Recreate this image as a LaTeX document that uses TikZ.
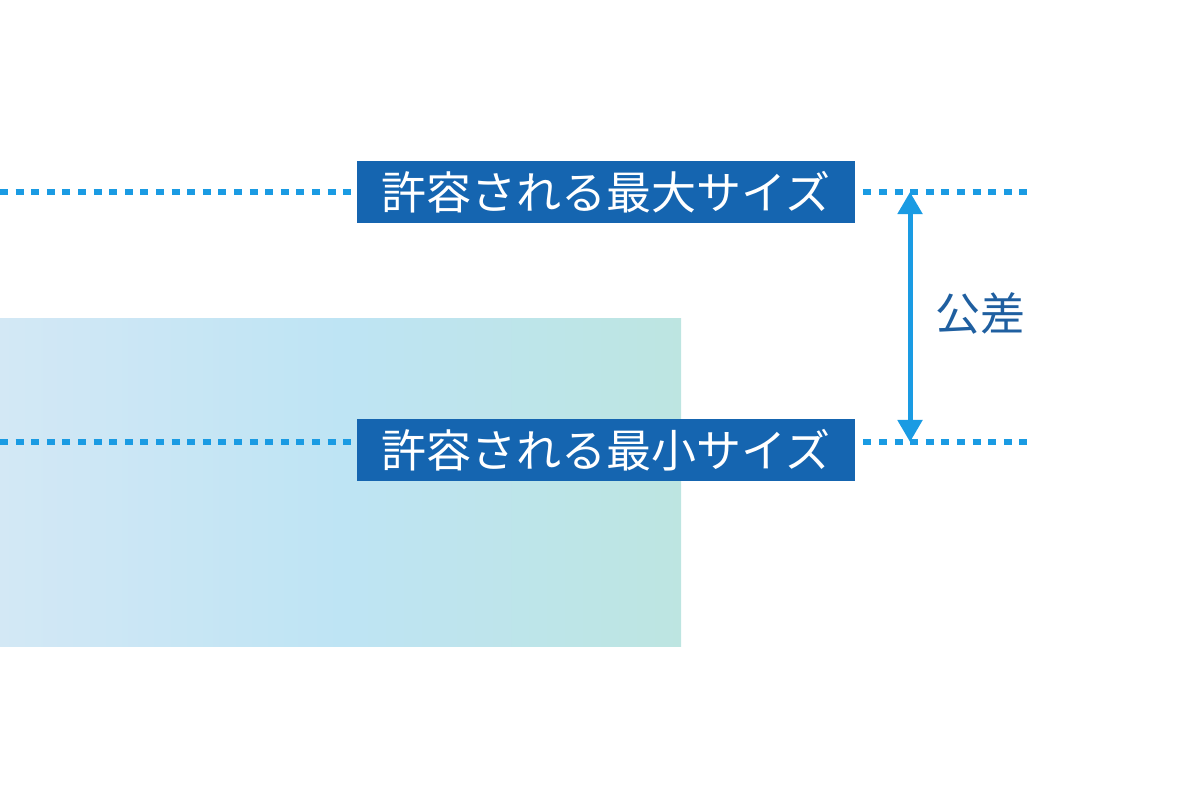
\documentclass[tikz,border=0pt]{standalone}
\usepackage{fontspec}
\setmainfont{Noto Sans CJK JP}
\usetikzlibrary{arrows.meta}
\definecolor{lineblue}{HTML}{1A9BE3}
\definecolor{boxblue}{HTML}{1565B0}
\definecolor{textblue}{HTML}{1F5FA0}
\definecolor{stockL}{HTML}{D3E8F5}
\definecolor{stockM}{HTML}{BEE4F4}
\definecolor{stockR}{HTML}{BDE5E1}
\tikzset{
  limitline/.style={lineblue, line width=0.15cm, dash pattern=on 0.2cm off 0.19cm},
  sizebox/.style={fill=boxblue, text=white, font=\fontsize{32}{36}\selectfont,
    minimum width=12.45cm, minimum height=1.55cm, inner sep=0pt}
}
\begin{document}
\begin{tikzpicture}[x=0.025cm,y=-0.025cm]
  \useasboundingbox (0,0) rectangle (1200,800);
  % stock
  \shade[left color=stockL, right color=stockR, middle color=stockM]
    (0,318) rectangle (681,646);
  \node[sizebox] (max) at (606,192) {許容される最大サイズ};
  \node[sizebox] (min) at (606,450) {許容される最小サイズ};
  \coordinate (maxL) at (0,192);
  \coordinate (maxR) at (1030,192);
  \coordinate (minL) at (0,442);
  \coordinate (minR) at (1030,442);
  \draw[limitline] (maxL) -- (max.west |- maxL);
  \draw[limitline] (max.east |- maxL) ++(8,0) -- (maxR);
  \draw[limitline] (minL) -- (min.west |- minL);
  \draw[limitline] (min.east |- minL) ++(8,0) -- (minR);
  \coordinate (tolT) at (910,192);
  \coordinate (tolB) at (910,442);
  \draw[lineblue, line width=0.125cm,
    {Triangle[width=0.6cm,length=0.55cm]}-{Triangle[width=0.6cm,length=0.55cm]}]
    (tolT) -- (tolB);
  \node[text=textblue, font=\fontsize{32}{36}\selectfont] (tol) at (980,313) {公差};
\end{tikzpicture}
\end{document}
